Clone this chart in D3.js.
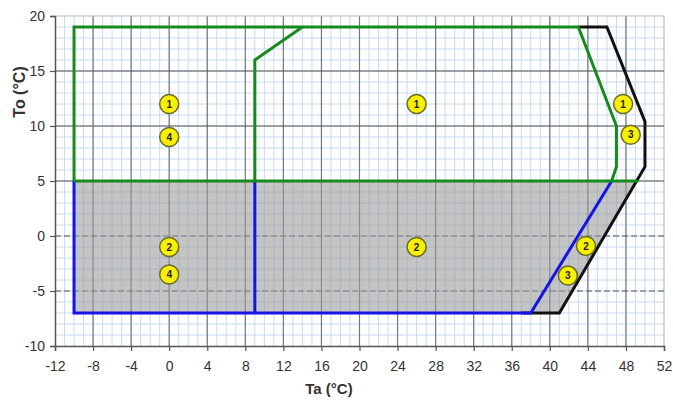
<!DOCTYPE html>
<html>
<head>
<meta charset="utf-8">
<script src="https://cdn.jsdelivr.net/npm/d3@7"></script>
<style>
  body { margin: 0; background: #fff; }
  text { font-family: Arial, "Liberation Sans", sans-serif; }
</style>
</head>
<body>
<svg></svg>
<script>
var width = 673;
var height = 401;

// axis ticks
var xTicks = [-12, -8, -4, 0, 4, 8, 12, 16, 20, 24, 28, 32, 36, 40, 44, 48, 52];
var yTicks = [-10, -5, 0, 5, 10, 15, 20];
var dashedY = [0, -5];

// envelopes (Ta, To)
var shaded = [[-10, 5], [49.3, 5], [41, -7], [-10, -7]];
var greenOuter = [[-10, 5], [-10, 19], [43, 19], [47, 10], [47, 6.3], [46.5, 5]];
var greenMid = [[9, 5], [9, 16], [14, 19]];
var greenBase = [[-10, 5], [49.3, 5]];
var blueOuter = [[-10, 5], [-10, -7], [38, -7], [46.5, 5]];
var blueMid = [[9, 5], [9, -7]];
var blackOuter = [[43, 19], [46, 19], [50, 10.4], [50, 6.3], [41, -7], [37, -7]];

// numbered markers
var markerX = [0, 0, 0, 0, 26, 26, 47.7, 48.5, 43.8, 41.9];
var markerY = [12, 9, -1, -3.5, 12, -1, 12, 9.2, -0.9, -3.6];
var markerLabel = ["1", "4", "2", "4", "1", "2", "1", "3", "2", "3"];

var margin = {left: 55, right: 9, top: 16, bottom: 55};

var svg = d3.select('svg')
    .attr("width", width)
    .attr("height", height);

var x = d3.scaleLinear().domain([-12, 52]).range([margin.left, width - margin.right]);
var y = d3.scaleLinear().domain([-10, 20]).range([height - margin.bottom, margin.top]);

var g = svg.append('g');

// minor grid
g.selectAll('.minx').data(d3.range(-11, 52, 1))
    .enter().append('line')
    .attr("x1", d => x(d)).attr("x2", d => x(d))
    .attr("y1", y(-10)).attr("y2", y(20))
    .attr("stroke", '#c6dcf2').attr("stroke-width", 1);
g.selectAll('.miny').data(d3.range(-9, 20, 1))
    .enter().append('line')
    .attr("x1", x(-12)).attr("x2", x(52))
    .attr("y1", d => y(d)).attr("y2", d => y(d))
    .attr("stroke", '#c6dcf2').attr("stroke-width", 1);

// major grid
g.selectAll('.majx').data(xTicks.slice(1))
    .enter().append('line')
    .attr("x1", d => x(d)).attr("x2", d => x(d))
    .attr("y1", y(-10)).attr("y2", y(20))
    .attr("stroke", d => d == 52 ? '#bbb' : '#777').attr("stroke-width", 1.2);
g.selectAll('.majy').data(yTicks.slice(1))
    .enter().append('line')
    .attr("x1", x(-12)).attr("x2", x(52))
    .attr("y1", d => y(d)).attr("y2", d => y(d))
    .attr("stroke", d => d == 20 ? '#bbb' : '#555')
    .attr("stroke-width", 1.2)
    .attr("stroke-dasharray", d => dashedY.indexOf(d) >= 0 ? '6,3' : null);

var line = d3.line().x(d => x(d[0])).y(d => y(d[1]));

// shaded zone
g.append('path')
    .attr("d", line(shaded) + 'Z')
    .attr("fill", '#9a9a9a')
    .attr("fill-opacity", 0.58);

function drawLine(pts, color) {
    g.append('path')
        .attr("d", line(pts))
        .attr("fill", 'none')
        .attr("stroke", color)
        .attr("stroke-width", 3)
        .attr("stroke-linejoin", 'miter');
}

drawLine(blackOuter, '#111');
drawLine(blueOuter, '#1414e6');
drawLine(blueMid, '#1414e6');
drawLine(greenOuter, '#178a1e');
drawLine(greenMid, '#178a1e');
drawLine(greenBase, '#178a1e');

// markers
var mk = g.selectAll('.mk').data(markerX.map((d, i) => i))
    .enter().append('g')
    .attr("transform", i => "translate(" + x(markerX[i]) + "," + y(markerY[i]) + ")");
mk.append('circle')
    .attr("r", 9.5)
    .attr("fill", '#f7f000')
    .attr("stroke", '#6b6b2a')
    .attr("stroke-width", 1.5);
mk.append('text')
    .attr("text-anchor", 'middle')
    .attr("dy", '0.36em')
    .attr("font-size", 10)
    .attr("font-weight", 'bold')
    .attr("fill", '#222')
    .text(i => markerLabel[i]);

// axes
var fmt = d => String(d);
var xAxis = svg.append('g')
    .attr("transform", "translate(0," + y(-10) + ")")
    .call(d3.axisBottom(x).tickValues(xTicks).tickSize(5).tickPadding(10).tickFormat(fmt));
var yAxis = svg.append('g')
    .attr("transform", "translate(" + x(-12) + ",0)")
    .call(d3.axisLeft(y).tickValues(yTicks).tickSize(5).tickPadding(5).tickFormat(fmt));

[xAxis, yAxis].forEach(function(a) {
    a.select('.domain').attr("stroke", '#555').attr("stroke-width", 1.5);
    a.selectAll('.tick line').attr("stroke", '#555').attr("stroke-width", 1.2);
    a.selectAll('.tick text').attr("font-size", 14).attr("fill", '#333')
        .attr("font-family", 'Arial, "Liberation Sans", sans-serif');
});

svg.append('text')
    .attr("x", 329).attr("y", 394)
    .attr("text-anchor", 'middle')
    .attr("font-size", 15).attr("font-weight", 'bold').attr("fill", '#333')
    .text('Ta (°C)');
svg.append('text')
    .attr("transform", "translate(25,92) rotate(-90)")
    .attr("text-anchor", 'middle')
    .attr("font-size", 16).attr("font-weight", 'bold').attr("fill", '#333')
    .text('To (°C)');
</script>
</body>
</html>
